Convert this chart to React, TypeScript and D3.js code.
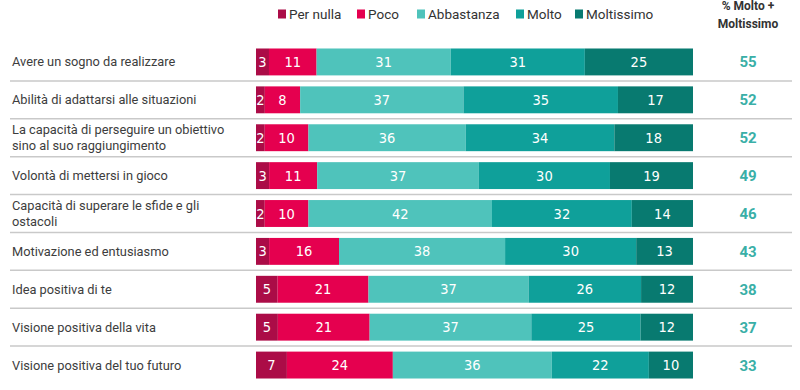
import React from "react";
import * as d3 from "d3";

const categories: string[][] = [
  ["Avere un sogno da realizzare"],
  ["Abilità di adattarsi alle situazioni"],
  ["La capacità di perseguire un obiettivo", "sino al suo raggiungimento"],
  ["Volontà di mettersi in gioco"],
  ["Capacità di superare le sfide e gli", "ostacoli"],
  ["Motivazione ed entusiasmo"],
  ["Idea positiva di te"],
  ["Visione positiva della vita"],
  ["Visione positiva del tuo futuro"],
];

const seriesNames = ["Per nulla", "Poco", "Abbastanza", "Molto", "Moltissimo"];
const perNulla = [3, 2, 2, 3, 2, 3, 5, 5, 7];
const poco = [11, 8, 10, 11, 10, 16, 21, 21, 24];
const abbastanza = [31, 37, 36, 37, 42, 38, 37, 37, 36];
const molto = [31, 35, 34, 30, 32, 30, 26, 25, 22];
const moltissimo = [25, 17, 18, 19, 14, 13, 12, 12, 10];
const totals = [55, 52, 52, 49, 46, 43, 38, 37, 33];

const colors = ["#ab0c47", "#e5004f", "#4fc3bb", "#0fa09a", "#087a70"];
const seriesValues = [perNulla, poco, abbastanza, molto, moltissimo];

const W = 800;
const H = 390;

export default function App() {
  const x = d3.scaleLinear().domain([0, 100]).range([256, 693]);
  const y = d3
    .scaleBand<number>()
    .domain(d3.range(categories.length))
    .range([43, 384])
    .paddingInner(0.29)
    .paddingOuter(0.145);

  const labelFont = "Roboto, 'Noto Sans', sans-serif";
  const numFont = "'Liberation Sans Narrow', 'DejaVu Sans Condensed', Roboto, sans-serif";

  const legendX = [280, 359, 419, 518, 577];

  return (
    <div style={{ position: "absolute", left: 0, top: 0 }}>
      <svg width={W} height={H} style={{ display: "block", background: "#fff" }}>
        {seriesNames.map((name, i) => (
          <g key={name} transform={`translate(${legendX[i]},14)`}>
            <rect x={-2} y={-4.5} width={8} height={9} fill={colors[i]} />
            <text x={9} y={5} fontFamily={labelFont} fontSize={13.5} fill="#333">
              {name}
            </text>
          </g>
        ))}
        <text x={748} y={10} textAnchor="middle" fontFamily={labelFont} fontWeight="bold" fontSize={12} fill="#333">
          % Molto +
        </text>
        <text x={748} y={28} textAnchor="middle" fontFamily={labelFont} fontWeight="bold" fontSize={12} fill="#333">
          Moltissimo
        </text>

        {categories.map((lines, r) => {
          const y0 = y(r)!;
          const bh = y.bandwidth();
          const cy = y0 + bh / 2;
          const rowVals = seriesValues.map((s) => s[r]);
          const sum = d3.sum(rowVals);
          let cum = 0;
          const segs = rowVals.map((v, i) => {
            const a = (cum / sum) * 100;
            cum += v;
            const b = (cum / sum) * 100;
            return { v, i, x0: x(a), x1: x(b) };
          });
          const step = y.step();
          return (
            <g key={r}>
              {lines.map((ln, li) => (
                <text
                  key={li}
                  x={12}
                  y={cy + 4.5 + (li - (lines.length - 1) / 2) * 15.5}
                  fontFamily={labelFont}
                  fontSize={12.8}
                  fill="#3d3d3d"
                >
                  {ln}
                </text>
              ))}
              {segs.map((s) => (
                <g key={s.i}>
                  <rect x={s.x0} y={y0} width={s.x1 - s.x0} height={bh} fill={colors[s.i]} />
                  <text
                    x={(s.x0 + s.x1) / 2}
                    y={cy + 5}
                    textAnchor="middle"
                    fontFamily={numFont}
                    fontSize={14.5}
                    fill="#fff"
                  >
                    {s.v}
                  </text>
                </g>
              ))}
              <text
                x={748}
                y={cy + 5.5}
                textAnchor="middle"
                fontFamily={labelFont}
                fontWeight="bold"
                fontSize={15}
                fill="#3aafa7"
              >
                {totals[r]}
              </text>
              {r < categories.length - 1 && (
                <line
                  x1={10}
                  x2={792}
                  y1={y0 + bh + (step - bh) / 2}
                  y2={y0 + bh + (step - bh) / 2}
                  stroke="#c9c9c9"
                  strokeWidth={1.5}
                />
              )}
            </g>
          );
        })}
      </svg>
    </div>
  );
}
